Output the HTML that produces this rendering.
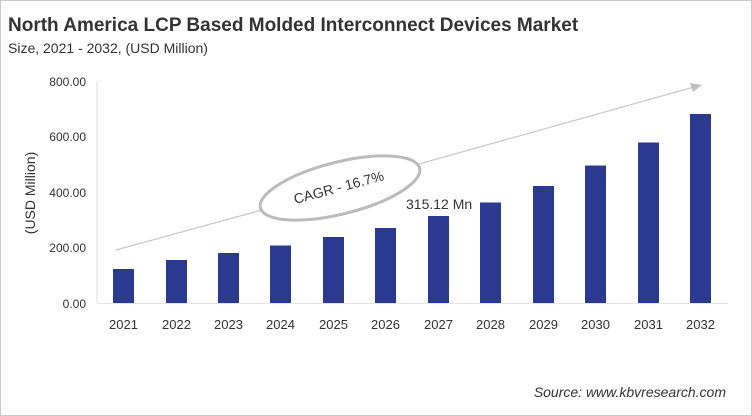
<!DOCTYPE html>
<html><head><meta charset="utf-8"><style>
body{margin:0;background:#fff}
svg{display:block;font-family:"Liberation Sans",sans-serif}
</style></head><body>
<svg width="752" height="416" viewBox="0 0 752 416">
<rect x="0.5" y="0.5" width="751" height="415" fill="#fff" stroke="#c8c8c8"/>
<text x="8" y="31" font-size="19" font-weight="bold" fill="#333">North America LCP Based Molded Interconnect Devices Market</text>
<text x="8" y="53" font-size="14" fill="#333">Size, 2021 - 2032, (USD Million)</text>
<line x1="97" y1="81" x2="97" y2="303" stroke="#ddd"/>
<line x1="97" y1="303.5" x2="728" y2="303.5" stroke="#e4e4e4"/>
<g font-size="12" fill="#333" text-anchor="end">
<text x="86" y="86">800.00</text><text x="86" y="141">600.00</text><text x="86" y="197">400.00</text><text x="86" y="252">200.00</text><text x="86" y="308">0.00</text>
</g>
<text transform="translate(35,193) rotate(-90)" font-size="14" fill="#333" text-anchor="middle">(USD Million)</text>
<g fill="#2b3990">
<rect x="113" y="269" width="21" height="34"/>
<rect x="166" y="260" width="21" height="43"/>
<rect x="218" y="253" width="21" height="50"/>
<rect x="270" y="245.5" width="21" height="57.5"/>
<rect x="323" y="237" width="21" height="66"/>
<rect x="375" y="228" width="21" height="75"/>
<rect x="428" y="216" width="21" height="87"/>
<rect x="480" y="202.5" width="21" height="100.5"/>
<rect x="533" y="186" width="21" height="117"/>
<rect x="585" y="165.5" width="21" height="137.5"/>
<rect x="638" y="142.5" width="21" height="160.5"/>
<rect x="690" y="114" width="21" height="189"/>
</g>
<g font-size="13" fill="#333" text-anchor="middle">
<text x="123.5" y="329">2021</text><text x="176.5" y="329">2022</text><text x="228.5" y="329">2023</text><text x="280.5" y="329">2024</text><text x="333.5" y="329">2025</text><text x="385.5" y="329">2026</text><text x="438.5" y="329">2027</text><text x="490.5" y="329">2028</text><text x="543.5" y="329">2029</text><text x="595.5" y="329">2030</text><text x="648.5" y="329">2031</text><text x="700.5" y="329">2032</text>
</g>
<line x1="116" y1="250" x2="262" y2="210" stroke="#c8c8c8" stroke-width="1.2"/>
<line x1="419" y1="164" x2="694" y2="87" stroke="#c8c8c8" stroke-width="1.2"/>
<polygon points="702,85 690,83 693,92" fill="#c0c0c0"/>
<ellipse cx="340" cy="188" rx="82" ry="26" transform="rotate(-14 340 188)" fill="#fff" stroke="#bbb" stroke-width="3"/>
<text transform="translate(340,192) rotate(-15)" font-size="14" fill="#333" text-anchor="middle">CAGR - 16.7%</text>
<text x="406" y="209" font-size="14" fill="#333">315.12 Mn</text>
<text x="726" y="397" font-size="14" font-style="italic" fill="#333" text-anchor="end">Source: www.kbvresearch.com</text>
</svg>
</body></html>
